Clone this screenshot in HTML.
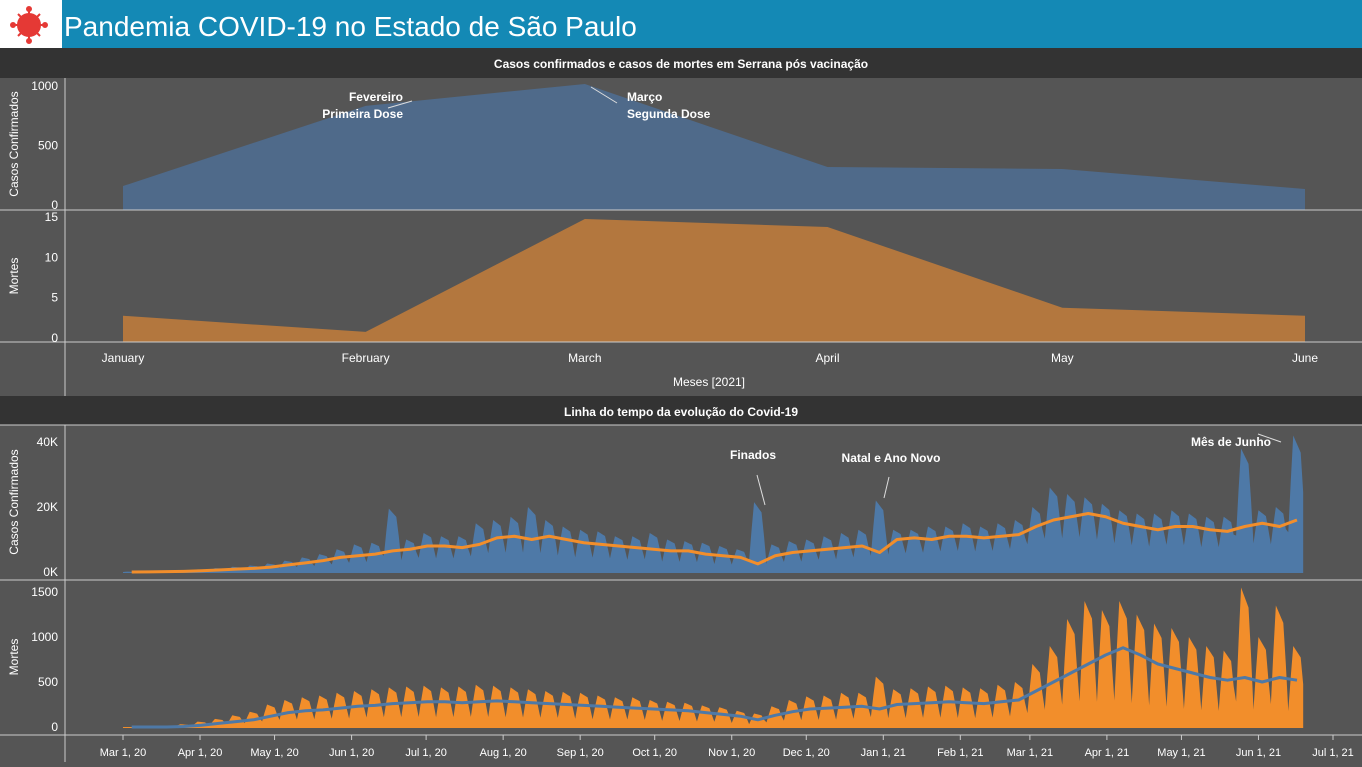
<!DOCTYPE html>
<html><head><meta charset="utf-8"><style>
body{margin:0;width:1362px;height:762px;overflow:hidden;background:#555;font-family:"Liberation Sans",sans-serif}
svg text{font-family:"Liberation Sans",sans-serif}
</style></head><body>
<svg id="c" width="1362" height="762" xmlns="http://www.w3.org/2000/svg">
<rect x="0" y="0" width="1362" height="48" fill="#1489b5"/>
<rect x="0" y="0" width="62" height="48" fill="#ffffff"/>
<g transform="translate(29,25)" stroke="#e53935" stroke-width="2" fill="#e53935">
<line x1="0" y1="-16" x2="0" y2="16"/><line x1="-16" y1="0" x2="16" y2="0"/><line x1="-11" y1="-11" x2="11" y2="11"/><line x1="-11" y1="11" x2="11" y2="-11"/>
<circle r="11"/><circle cx="0" cy="-16" r="2"/><circle cx="0" cy="16" r="2"/><circle cx="-16" cy="0" r="2"/><circle cx="16" cy="0" r="2"/>
</g>
<text x="64" y="36" font-size="28" fill="#fff">Pandemia COVID-19  no Estado de São Paulo</text>
<rect x="0" y="48" width="1362" height="30" fill="#333"/>
<text x="681" y="68" font-size="12" font-weight="bold" fill="#fff" text-anchor="middle">Casos confirmados e casos de mortes em Serrana pós vacinação</text>
<rect x="0" y="396" width="1362" height="29" fill="#333"/>
<text x="681" y="416" font-size="12" font-weight="bold" fill="#fff" text-anchor="middle">Linha do tempo da evolução do Covid-19</text>
<g id="topg"></g><g id="botg"></g>
</svg>
<script>
// ---- top chart data ----
const monthLabels=["January","February","March","April","May","June"];
const monthDays=[0,31,59,90,120,151];
const serranaCases=[176,850,1034,336,319,151];
const serranaDeaths=[3,1,15,14,4,3];
const serranaCaseTicks=[0,500,1000];
const serranaDeathTicks=[0,5,10,15];
// ---- bottom chart data (weekly, from Mar 1 2020) ----
const casesAvg=[0,0.05,0.1,0.2,0.4,0.6,0.9,1.1,1.5,2.2,2.8,3.5,4.5,5,5.5,6.5,7,8,8,7.5,8.5,10.5,11,10,11,10,9,8.5,8,7.5,7,6.5,6.5,5.5,5,4.5,2.5,5,6,6.5,7,7.5,8,6,10,10.5,10,11,11,10.5,11,11.5,14,16,17,18,17,15,14,13,14,14,13,12.5,14,15,14,16];
const casesHigh=[0.1,0.2,0.3,0.5,0.8,1.2,1.6,2,2.6,3.5,4.5,5.5,7,8.5,9,19.5,10,12,11,11,15,16,17,20,16,14,13,12.5,11,11,12,10,9.5,9,8,7,21.5,8.5,9.5,10,11,12,13,22,13,13,14,14,15,14,15,16,20,26,24,23,21,19,18,18,19,18,17,17,38,19,20,42];
const casesLow=[0,0,0,0.1,0.1,0.2,0.3,0.4,0.5,0.8,1,1.2,1.5,1.8,2,2.5,2.5,3,3,3,3,4,4,3.5,4,3.5,3,3,3,2.5,2.5,2,2,2,1.5,1.5,0.5,1.5,2,2,2.5,2.5,3,2,4,4.5,4.5,5,5,5,5,5.5,6.5,7.5,8,8.5,8,7,6.5,6,6.5,6.5,6,6,6.5,7,6.5,7];
const deathsAvg=[0,0,0,5,20,40,60,80,120,160,180,190,210,230,240,260,270,280,280,270,280,290,280,270,260,250,240,230,220,210,200,190,180,160,140,120,80,130,170,200,210,220,230,200,250,260,270,280,270,260,280,300,400,500,600,700,800,880,800,700,650,600,550,520,550,500,550,520];
const deathsHigh=[0,0,10,30,60,90,130,170,250,300,330,350,380,400,420,440,450,460,440,450,470,460,440,420,400,390,380,350,330,330,300,280,270,240,220,180,150,230,300,340,350,380,380,560,420,430,450,460,440,430,470,500,700,900,1200,1400,1300,1400,1250,1150,1100,1000,900,850,1550,1000,1350,900];
const deathsLow=[0,0,0,0,5,10,15,20,30,40,40,40,40,40,50,50,50,50,50,50,50,50,50,50,50,50,40,40,40,40,40,30,30,30,30,20,10,20,30,30,30,30,40,30,40,40,40,40,40,40,40,50,60,70,80,90,100,100,90,80,70,60,60,60,60,50,60,50];
const dateLabels=["Mar 1, 20","Apr 1, 20","May 1, 20","Jun 1, 20","Jul 1, 20","Aug 1, 20","Sep 1, 20","Oct 1, 20","Nov 1, 20","Dec 1, 20","Jan 1, 21","Feb 1, 21","Mar 1, 21","Apr 1, 21","May 1, 21","Jun 1, 21","Jul 1, 21"];
const dateDays=[0,31,61,92,122,153,184,214,245,275,306,337,365,396,426,457,487];
const covidCaseTicks=[0,20,40];
const covidDeathTicks=[0,500,1000,1500];
const weekShape=[0.15,0.6,1,0.95,0.9,0.85,0.5];

const NS="http://www.w3.org/2000/svg";
function mk(parent,tag,attrs){const e=document.createElementNS(NS,tag);for(const k in attrs)e.setAttribute(k,attrs[k]);parent.appendChild(e);return e;}
function txt(parent,x,y,s,opts){const t=mk(parent,"text",Object.assign({x:x,y:y,fill:"#fff","font-size":12},opts||{}));t.textContent=s;return t;}

// ---- top chart ----
const topG=document.getElementById("topg");
const tx=d=>123+d*(1305-123)/151;
const tyC=v=>207-v*0.119;
const tyD=v=>340-v*8.07;
function areaPath(xs,ys,base){let p="M"+xs[0]+","+base;for(let i=0;i<xs.length;i++)p+="L"+xs[i]+","+ys[i];return p+"L"+xs[xs.length-1]+","+base+"Z";}
let pth=mk(topG,"path",{d:areaPath(monthDays.map(tx),serranaCases.map(tyC),210),fill:"#4f6a8a"});


pth=mk(topG,"path",{d:areaPath(monthDays.map(tx),serranaDeaths.map(tyD),342),fill:"#b3773e"});


mk(topG,"line",{x1:65,y1:78,x2:65,y2:396,stroke:"#ccc"});
mk(topG,"line",{x1:0,y1:210,x2:1362,y2:210,stroke:"#ccc"});
mk(topG,"line",{x1:0,y1:342,x2:1362,y2:342,stroke:"#ccc"});
serranaCaseTicks.forEach(v=>{const t=txt(topG,58,tyC(v)+2,String(v),{"text-anchor":"end"});});
serranaDeathTicks.forEach(v=>{const t=txt(topG,58,tyD(v)+2,String(v),{"text-anchor":"end"});});
monthLabels.forEach((m,i)=>{const t=txt(topG,tx(monthDays[i]),362,m,{"text-anchor":"middle"});});
let tt=txt(topG,709,386,"Meses [2021]",{"text-anchor":"middle"});


tt=txt(topG,18,144,"Casos Confirmados",{transform:"rotate(-90 18 144)","text-anchor":"middle"});


tt=txt(topG,18,276,"Mortes",{transform:"rotate(-90 18 276)","text-anchor":"middle"});


tt=txt(topG,403,101,"Fevereiro",{"text-anchor":"end","font-weight":"bold"});


tt=txt(topG,403,118,"Primeira Dose",{"text-anchor":"end","font-weight":"bold"});


mk(topG,"line",{x1:388,y1:108,x2:412,y2:101,stroke:"#ddd"});
tt=txt(topG,627,101,"Março",{"font-weight":"bold"});


tt=txt(topG,627,118,"Segunda Dose",{"font-weight":"bold"});


mk(topG,"line",{x1:591,y1:87,x2:617,y2:103,stroke:"#ddd"});

// ---- bottom chart ----
const botG=document.getElementById("botg");
const bx=d=>123+d*2.4846;
const byC=v=>572-v*3.25;
const byD=v=>727-v*0.09;
function daily(high,low){const out=[];for(let w=0;w<high.length;w++)for(let d=0;d<7;d++)out.push(low[w]+(high[w]-low[w])*weekShape[d]);return out;}
const dc=daily(casesHigh,casesLow), dd=daily(deathsHigh,deathsLow);
const dxs=dc.map((v,i)=>bx(i));
pth=mk(botG,"path",{d:areaPath(dxs,dc.map(byC),573),fill:"#4e79a7"});


pth=mk(botG,"path",{d:areaPath(dxs,dd.map(byD),728),fill:"#f28e2b"});


function linePath(xs,ys){return xs.map((x,i)=>(i?"L":"M")+x+","+ys[i]).join("");}
const wx=casesAvg.map((v,i)=>bx(i*7+3.5));
pth=mk(botG,"path",{d:linePath(wx,casesAvg.map(byC)),fill:"none",stroke:"#f28e2b","stroke-width":3,"stroke-linejoin":"round"});


pth=mk(botG,"path",{d:linePath(wx,deathsAvg.map(byD)),fill:"none",stroke:"#4e79a7","stroke-width":3,"stroke-linejoin":"round"});


mk(botG,"line",{x1:65,y1:425,x2:65,y2:762,stroke:"#ccc"});
mk(botG,"line",{x1:0,y1:580,x2:1362,y2:580,stroke:"#ccc"});
mk(botG,"line",{x1:0,y1:735,x2:1362,y2:735,stroke:"#ccc"});
mk(botG,"line",{x1:0,y1:425,x2:1362,y2:425,stroke:"#ccc"});
covidCaseTicks.forEach(v=>{const e=txt(botG,58,byC(v)+4,v+"K",{"text-anchor":"end"});});
covidDeathTicks.forEach(v=>{const e=txt(botG,58,byD(v)+4,String(v),{"text-anchor":"end"});});
dateLabels.forEach((s,i)=>{const x=bx(dateDays[i]);mk(botG,"line",{x1:x,y1:735,x2:x,y2:740,stroke:"#ccc"});const e=txt(botG,x,756,s,{"text-anchor":"middle","font-size":11});});
tt=txt(botG,18,502,"Casos Confirmados",{transform:"rotate(-90 18 502)","text-anchor":"middle"});


tt=txt(botG,18,657,"Mortes",{transform:"rotate(-90 18 657)","text-anchor":"middle"});


tt=txt(botG,753,459,"Finados",{"text-anchor":"middle","font-weight":"bold"});


mk(botG,"line",{x1:757,y1:475,x2:765,y2:505,stroke:"#ddd"});
tt=txt(botG,891,462,"Natal e Ano Novo",{"text-anchor":"middle","font-weight":"bold"});


mk(botG,"line",{x1:889,y1:477,x2:884,y2:498,stroke:"#ddd"});
tt=txt(botG,1231,446,"Mês de Junho",{"text-anchor":"middle","font-weight":"bold"});


mk(botG,"line",{x1:1258,y1:434,x2:1281,y2:442,stroke:"#ddd"});
</script>
</body></html>
